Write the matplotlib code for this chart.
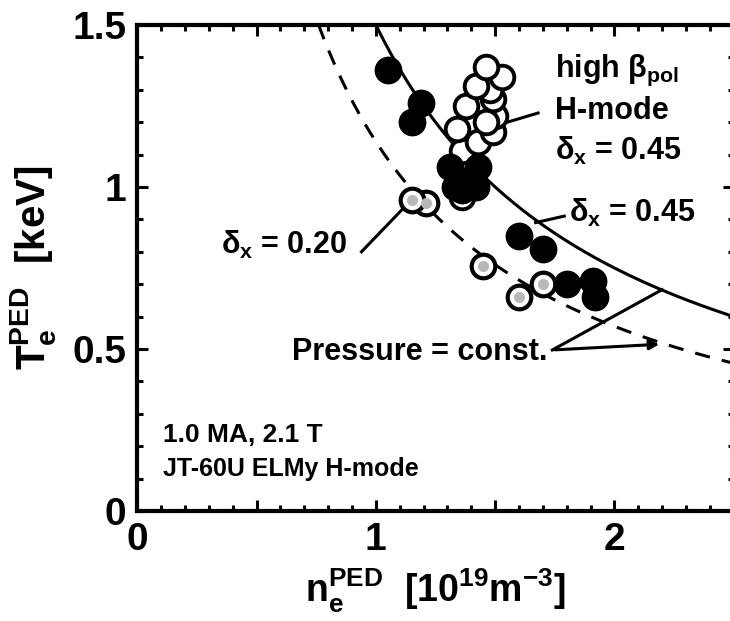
import numpy as np
import matplotlib
matplotlib.use("Agg")
import matplotlib.pyplot as plt

plt.rcParams["font.family"] = ["Liberation Sans", "DejaVu Sans"]
plt.rcParams["font.weight"] = "bold"
plt.rcParams["mathtext.fontset"] = "custom"
plt.rcParams["mathtext.rm"] = "Liberation Sans:bold"
plt.rcParams["mathtext.it"] = "Liberation Sans:bold"
plt.rcParams["mathtext.bf"] = "Liberation Sans:bold"

# ELMy H-mode, delta_x = 0.45 (filled)
n_filled = [1.05, 1.19, 1.15, 1.31, 1.43, 1.36, 1.39, 1.33, 1.42, 1.60, 1.70, 1.80, 1.91, 1.92]
t_filled = [1.36, 1.26, 1.20, 1.06, 1.06, 0.99, 1.02, 1.00, 1.00, 0.85, 0.81, 0.70, 0.71, 0.66]

# high beta_pol H-mode, delta_x = 0.45 (open)
n_open = [1.36, 1.38, 1.36, 1.43, 1.34, 1.49, 1.50, 1.38, 1.46, 1.49, 1.48, 1.42, 1.53, 1.46]
t_open = [0.97, 1.06, 1.11, 1.14, 1.18, 1.17, 1.22, 1.25, 1.20, 1.27, 1.30, 1.31, 1.34, 1.37]

# ELMy H-mode, delta_x = 0.20 (shaded)
n_shade = [1.21, 1.15, 1.45, 1.70, 1.60]
t_shade = [0.95, 0.96, 0.755, 0.70, 0.66]

# isobars: T = p / n
p_solid = 1.5
p_dash = 1.14

x_ticks = [0, 0.5, 1, 1.5, 2, 2.5]
x_ticklabels = ["0", "", "1", "", "2", ""]
y_ticks = [0, 0.5, 1, 1.5]
y_ticklabels = ["0", "0.5", "1", "1.5"]

fig = plt.figure(figsize=(7.3, 6.21), dpi=100)
ax = fig.add_axes([0.188, 0.177, 0.817, 0.783])

n_line = np.linspace(0.5, 2.6, 300)
ax.plot(n_line, p_solid / n_line, color="black", lw=2.2, zorder=2)
ax.plot(n_line, p_dash / n_line, color="black", lw=2.2, ls=(0, (5, 4)), zorder=2)

ax.plot(n_shade, t_shade, "o", ms=17, mfc="white", mec="black", mew=3, zorder=3)
ax.plot(n_shade, t_shade, "o", ms=8, mfc="#b8b8b8", mec="none", zorder=3)
ax.plot(n_open, t_open, "o", ms=17, mfc="white", mec="black", mew=2.8, zorder=3)
ax.plot(n_filled, t_filled, "o", ms=19, mfc="black", mec="black", zorder=4)

fs = 22
ax.text(1.75, 1.36, r"high $\beta_{pol}$", fontsize=fs, fontweight="bold", ha="left", va="center")
ax.text(1.75, 1.235, "H-mode", fontsize=fs, fontweight="bold", ha="left", va="center")
ax.text(1.75, 1.11, r"$\delta_x$ = 0.45", fontsize=fs, fontweight="bold", ha="left", va="center")
ax.plot([1.53, 1.68], [1.195, 1.228], color="black", lw=2.2, zorder=2)

ax.text(1.81, 0.92, r"$\delta_x$ = 0.45", fontsize=fs, fontweight="bold", ha="left", va="center")
ax.plot([1.67, 1.79], [0.89, 0.91], color="black", lw=2.2, zorder=2)

ax.text(0.88, 0.82, r"$\delta_x$ = 0.20", fontsize=fs, fontweight="bold", ha="right", va="center")
ax.plot([0.94, 1.11], [0.80, 0.93], color="black", lw=2.2, zorder=2)

ax.text(1.72, 0.49, "Pressure = const.", fontsize=fs, fontweight="bold", ha="right", va="center")
ax.plot([1.74, 2.2], [0.497, 0.683], color="black", lw=2.2, zorder=2)
ax.annotate("", xy=(2.2, 0.515), xytext=(1.74, 0.497),
            arrowprops=dict(arrowstyle="-|>", color="black", lw=2.2, mutation_scale=14))

ax.text(0.11, 0.235, "1.0 MA, 2.1 T", fontsize=19, fontweight="bold", ha="left", va="center")
ax.text(0.11, 0.13, "JT-60U ELMy H-mode", fontsize=18, fontweight="bold", ha="left", va="center")

ax.set_xlim(0, 2.5)
ax.set_ylim(0, 1.5)
ax.set_xticks(x_ticks)
ax.set_xticklabels(x_ticklabels)
ax.set_yticks(y_ticks)
ax.set_yticklabels(y_ticklabels)
ax.set_xticks(np.arange(0, 2.51, 0.1), minor=True)
ax.set_yticks(np.arange(0, 1.51, 0.1), minor=True)
ax.tick_params(which="both", direction="in", top=True, right=True, width=2.2)
ax.tick_params(which="major", length=8, labelsize=28, pad=8)
ax.tick_params(which="minor", length=4)
for lab in ax.get_xticklabels() + ax.get_yticklabels():
    lab.set_fontweight("bold")
for s in ax.spines.values():
    s.set_linewidth(3)

ax.set_xlabel(r"n$_e^{PED}$  [10$^{19}$m$^{-3}$]", fontsize=27, fontweight="bold", labelpad=6)
ax.set_ylabel(r"T$_e^{PED}$  [keV]", fontsize=29, fontweight="bold", labelpad=10)

fig.savefig("out.png", dpi=100)
